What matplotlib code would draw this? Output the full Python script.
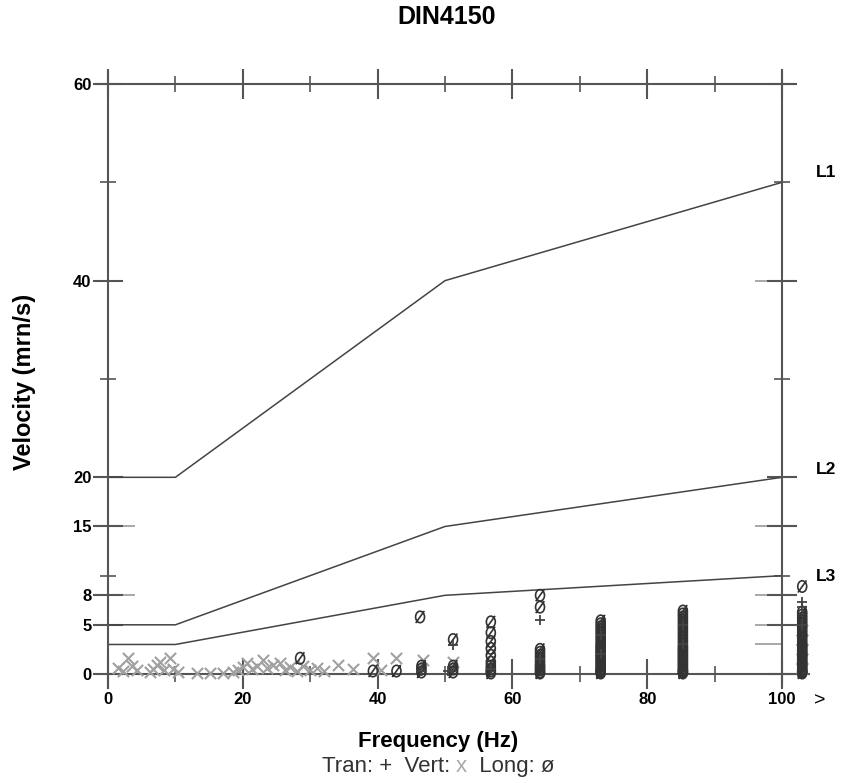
import matplotlib
matplotlib.use("Agg")
import matplotlib.pyplot as plt
from matplotlib.ticker import FixedLocator
from matplotlib.path import Path

plt.rcParams['font.family'] = ['Liberation Sans', 'DejaVu Sans']

# ---------------- data ----------------
line_freq = [0, 10, 50, 100]
L1 = [20, 20, 40, 50]
L2 = [5, 5, 15, 20]
L3 = [3, 3, 8, 10]
line_names = ["L1", "L2", "L3"]
label_y = [51.0, 20.8, 9.9]

y_major = [0, 5, 8, 15, 20, 40, 60]
y_minor = [10, 30, 50]
x_major = [0, 20, 40, 60, 80, 100]
x_minor = [10, 30, 50, 70, 90]
OVER = 103  # position of the ">100 Hz" overflow column

# Vert (grey x)
vert_freq = [1.5, 2.2, 2.9, 3.5, 4.3, 6.2, 6.7, 7.2, 7.7, 8.3, 9.2, 9.7, 10.4,
             13.2, 15.1, 17.1, 18.6, 19.3, 20.1, 20.6, 21.3, 22.1, 23.0, 23.6,
             24.5, 25.5, 26.2, 27.0, 28.1, 29.0, 30.0, 31.0, 32.0, 34.1, 36.3,
             39.3, 40.5, 42.8, 46.8, 51.2, 103, 103, 103, 103, 103]
vert_vel = [0.6, 0.3, 1.6, 0.8, 0.4, 0.2, 0.5, 0.9, 1.2, 0.4, 1.6, 0.5, 0.2,
            0.1, 0.1, 0.1, 0.2, 0.4, 0.7, 1.1, 0.5, 0.8, 1.4, 0.6,
            0.9, 1.1, 0.4, 0.7, 0.3, 0.8, 0.4, 0.6, 0.3, 0.9, 0.5,
            1.6, 0.4, 1.6, 1.4, 1.2, 0.6, 1.5, 2.5, 3.5, 4.5]

# Long (ø): scattered points
long_single_freq = [28.5, 46.3, 51.2, 39.3, 42.8, 46.5, 46.5, 46.5, 51.2, 51.2, 51.2]
long_single_vel = [1.6, 5.8, 3.5, 0.3, 0.3, 0.2, 0.5, 0.8, 0.2, 0.5, 0.8]
# Long (ø): measurement columns
col_freqs = [56.8, 64.1, 73.1, 85.3, OVER]
col_56 = [5.3, 4.2, 3.3, 2.6, 1.9, 1.2, 0.8, 0.5, 0.3, 0.1]
col_64 = [8.0, 6.8, 2.5, 2.2, 1.9, 1.6, 1.3, 1.0, 0.8, 0.6, 0.4, 0.2, 0.1]
col_73 = [5.4, 5.1, 4.8, 4.5, 4.2, 3.9, 3.6, 3.3, 3.0, 2.8, 2.6, 2.4, 2.2, 2.0,
          1.8, 1.6, 1.4, 1.2, 1.0, 0.8, 0.6, 0.4, 0.3, 0.2, 0.1]
col_85 = [6.4, 6.1, 5.8, 5.5, 5.2, 4.9, 4.6, 4.3, 4.0, 3.7, 3.4, 3.1, 2.8, 2.6,
          2.4, 2.2, 2.0, 1.8, 1.6, 1.4, 1.2, 1.0, 0.8, 0.6, 0.4, 0.3, 0.2, 0.1]
col_over = [8.9, 6.3, 6.0, 5.7, 5.4, 5.1, 4.8, 4.5, 4.2, 3.9, 3.6, 3.3, 3.0, 2.8,
            2.6, 2.4, 2.2, 2.0, 1.8, 1.6, 1.4, 1.2, 1.0, 0.8, 0.6, 0.4, 0.3, 0.2, 0.1]
col_vels = [col_56, col_64, col_73, col_85, col_over]

# Tran (+)
tran_freq = [51.2, 50.5, 46.5, 64.1, 64.1, 56.8, 73.1, 73.1, 85.3, 85.3, 103, 103, 103]
tran_vel = [2.9, 0.3, 0.3, 5.5, 1.5, 0.5, 2.0, 4.0, 3.0, 5.0, 7.3, 6.8, 5.0]

long_freq = list(long_single_freq)
long_vel = list(long_single_vel)
for f, vals in zip(col_freqs, col_vels):
    long_freq += [f] * len(vals)
    long_vel += vals

# ---------------- figure ----------------
fig = plt.figure(figsize=(8.41, 7.83), dpi=100)
ax = fig.add_axes([0.1164, 0.1204, 0.8495, 0.7874])
ax.set_xlim(-1.5, 104.5)
ax.set_ylim(-1.5, 61.2)

axis_col = "#555555"
for name, pos, bounds in [("left", 0, (-1.4, 61.2)), ("right", 100, (-1.0, 61.2)),
                          ("bottom", 0, (0, 104)), ("top", 60, (-1.5, 102))]:
    sp = ax.spines[name]
    sp.set_position(("data", pos))
    sp.set_bounds(*bounds)
    sp.set_color(axis_col)
    sp.set_linewidth(1.5)

# threshold lines
for vals in (L1, L2, L3):
    ax.plot(line_freq, vals, color="#444444", lw=1.1, zorder=2)
for name, yv in zip(line_names, label_y):
    ax.text(105.0, yv, name, fontsize=12.5, fontweight="bold", va="center", ha="left",
            clip_on=False)

# slashed-circle marker for "ø"
circ = Path.unit_circle()
ell = Path(circ.vertices * [0.78, 1.0], circ.codes)
slash = Path([(-0.75, -1.05), (0.75, 1.05)], [Path.MOVETO, Path.LINETO])
oslash = Path.make_compound_path(ell, slash)

ax.scatter(vert_freq, vert_vel, marker="x", s=65, color="#a0a0a0", linewidths=1.5,
           zorder=3, clip_on=False)
ax.scatter(long_freq, long_vel, marker=oslash, s=75, facecolors="none",
           edgecolors="#333333", linewidths=1.2, zorder=4, clip_on=False)
ax.scatter(tran_freq, tran_vel, marker="+", s=55, color="#444444", linewidths=1.3,
           zorder=4, clip_on=False)

# ticks
ax.xaxis.set_major_locator(FixedLocator(x_major))
ax.xaxis.set_minor_locator(FixedLocator(x_minor))
ax.yaxis.set_major_locator(FixedLocator(y_major))
ax.yaxis.set_minor_locator(FixedLocator(y_minor))
ax.tick_params(which="major", direction="inout", length=22, width=1.5, color=axis_col,
               top=True, right=True, labelsize=12)
ax.tick_params(which="minor", direction="inout", length=11, width=1.2, color=axis_col,
               top=True, right=True)
ax.tick_params(axis="y", which="major", pad=1)
ax.tick_params(axis="x", which="major", pad=2)
for lab in ax.get_xticklabels() + ax.get_yticklabels():
    lab.set_fontweight("bold")

# extra light inner marks at threshold levels
ax.hlines([8, 15], 0, 4, color="#999999", lw=1.2, zorder=1)
ax.hlines([3, 5, 8, 15, 40], 96, 100, color="#999999", lw=1.2, zorder=1)

ax.text(105.6, -1.9, ">", fontsize=14, ha="center", va="top", clip_on=False)

# labels
fig.text(0.531, 0.978, "DIN4150", fontsize=18, fontweight="bold", ha="center", va="center")
fig.text(0.521, 0.053, "Frequency (Hz)", fontsize=16, fontweight="bold", ha="center", va="center")
fig.text(0.029, 0.512, "Velocity (mrn/s)", fontsize=17, fontweight="bold", ha="center",
         va="center", rotation=90)

# legend line below x label
parts = [("Tran: +  Vert: ", "#333333"), ("x", "#aaaaaa"), ("  Long: ø", "#333333")]
fig.canvas.draw()
renderer = fig.canvas.get_renderer()
texts = []
widths = []
for s, c in parts:
    t = fig.text(0, 0.021, s, fontsize=16, color=c, ha="left", va="center")
    texts.append(t)
    widths.append(t.get_window_extent(renderer).width)
total = sum(widths)
x0 = 438 - total / 2
for t, w in zip(texts, widths):
    t.set_x(x0 / 841)
    x0 += w

fig.savefig("out.png", dpi=100)
